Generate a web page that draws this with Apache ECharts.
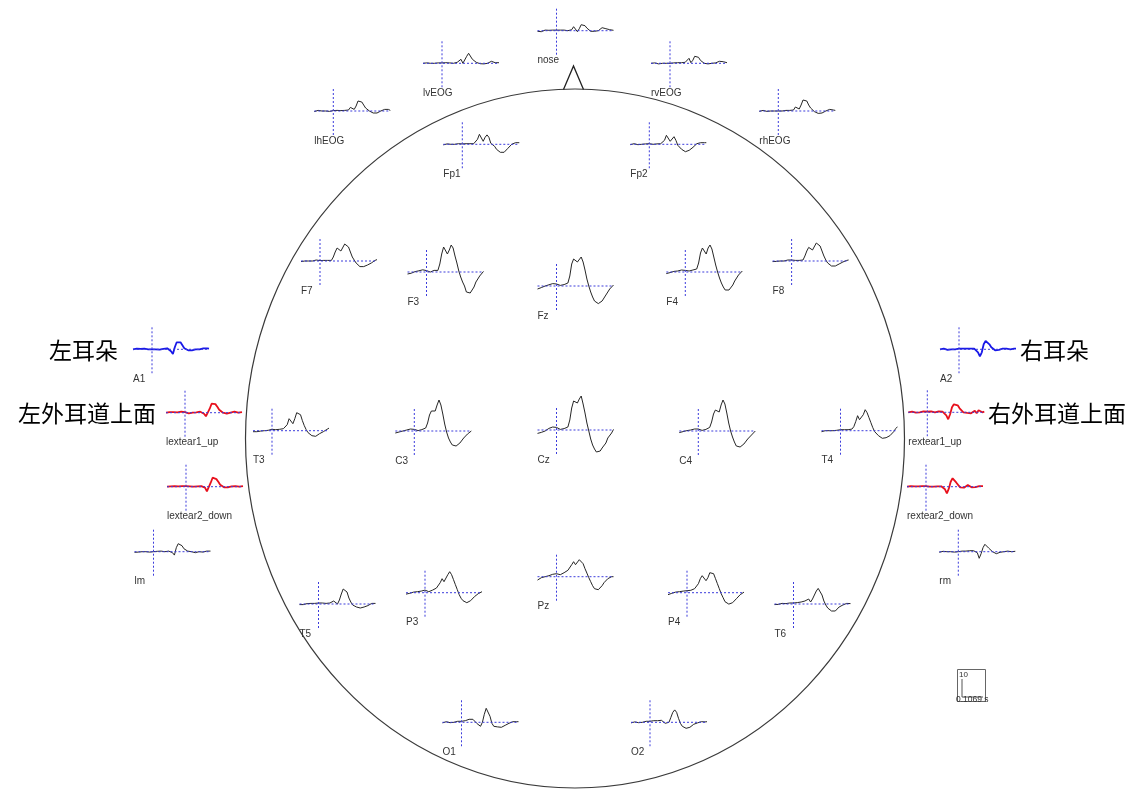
<!DOCTYPE html>
<html>
<head>
<meta charset="utf-8">
<title>ERP topoplot</title>
<script src="https://cdn.jsdelivr.net/npm/echarts@6/dist/echarts.min.js"></script>
<style>
  html, body { margin: 0; padding: 0; background: #fff; }
  #main { width: 1136px; height: 791px; }
</style>
</head>
<body>
<div id="main"></div>
<script>
// 时间轴 (ms)
var times = [-100, -90, -80, -70, -60, -50, -40, -30, -20, -10, 0, 10, 20, 30, 40, 50, 60, 70, 80, 90, 100,
    110, 120, 130, 140, 150, 160, 170, 180, 190, 200, 210, 220, 230, 240, 250, 260, 270, 280, 290, 300];

// 各通道波形 (uV)
var nose = [-0.3, 0, -0.5, 0, 0.3, -0.2, 0.2, 0, 0.3, 0.5, 0.3, 0, 0.3, 0.5, 0.3, 1, 0, -1, 0.5, 2, 1.5, -0.5, 1, 3, 3.3, 2.5, 1.3, 0.5, -0.3, -0.5, -0.3, 0, 0, 0.5, 1.5, 1.7, 1, 0.5, 0.5, 0.3, 0.2];
var lvEOG = [0, -0.3, 0.2, -0.3, 0, 0.3, 0, -0.2, 0.2, 0, 0.2, 0, 0.3, 0, 0.2, 0.3, 0, 0.3, 0.5, 1, 2, 0, 1, 3.5, 5, 4, 2, 1, 0.5, 0, -0.2, -0.3, -0.3, -0.3, 0, 0.5, 1, 0.8, 0.3, 0.5, 0.3];
var rvEOG = [0, -0.2, 0.2, 0, -0.3, 0.2, 0, 0.3, 0, 0.2, 0, 0.3, 0.2, 0, 0.3, 0.2, 0.3, 0.3, 0.5, 1.5, 2.5, 0.3, 1.5, 3.5, 4.2, 3, 1.5, 0.5, 0, -0.3, -0.3, -0.2, 0, 0, 0.2, 0.5, 1, 0.5, 0.8, 0.5, 0.3];
var lhEOG = [-0.3, 0, 0.3, -0.2, 0, 0.3, 0, 0.2, -0.2, 0, 0.2, 0, 0.3, 0, 0.2, 0, 0.3, 0.2, 0.5, 1.8, 2.5, 0.8, 2.5, 5, 5.8, 4.5, 3, 1.5, 0.5, 0, -0.5, -1, -1.2, -1, -0.5, 0, 0.5, 0.8, 0.5, 0.8, 0.3];
var rhEOG = [-0.2, 0, 0.3, 0, -0.2, 0.2, 0, 0.3, 0, 0.2, 0, 0.3, 0, 0.2, 0.3, 0, 0.3, 0.2, 0.5, 2, 3, 1, 3, 5.5, 6.5, 5, 3, 1.5, 0.5, -0.3, -0.8, -1.2, -1.3, -1, -0.5, 0, 0.5, 0.8, 0.5, 0.5, 0.3];
var Fp1 = [-0.3, 0, 0.2, -0.2, 0, 0.3, 0, 0.2, 0.3, 0, 0.2, 0, 0.3, 0.2, 0.3, 0.3, 0.3, 0.5, 2.5, 5, 5.3, 1.5, 3.5, 4.7, 3.5, 0.5, -0.3, -1, -2.5, -3.5, -4, -4.2, -4, -3, -2, -1, 0, 0.5, 0.8, 0.8, 0.8];
var Fp2 = [-0.2, 0, 0.3, 0, -0.2, 0.2, 0, 0.3, 0.2, 0, 0.3, 0.2, 0, 0.3, 0.2, 0.3, 0.3, 0.5, 2, 4.5, 5, 1.5, 2.5, 3.8, 2, -0.5, -1.5, -2.5, -3.5, -3.7, -3.5, -3, -2.5, -1.5, -0.5, 0.3, 0.5, 0.8, 0.8, 0.8, 0.8];
var F7 = [-0.3, -0.2, 0, -0.3, 0, 0.2, 0, 0.3, 0.5, 0.3, 0.2, 0, 0.3, 0.2, 0.3, 0.3, 0.3, 2, 4.5, 6.5, 7.3, 5, 5.5, 8.5, 9, 7, 4.5, 2, 0.5, -1, -2, -2.8, -3, -2.8, -2.5, -2, -1.5, -1, 0, 0.3, 0.7];
var F3 = [-1, -0.8, -0.6, -0.2, 0.2, 0.4, 0.6, 0.8, 1.1, 1, 0.7, 0.3, 0, 0.6, 0.8, 0.8, 0.8, 4, 9, 12.5, 13.5, 9, 11, 13.5, 12, 8, 4.5, 0.5, -2.5, -5, -7, -10, -11, -10.5, -9.5, -7.5, -5, -3.5, -2, -1, 0.3];
var Fz = [-1.5, -1.2, -0.8, -0.5, 0, 0.3, 0.6, 1, 1.2, 1.3, 1, 0.5, 0.3, 0.5, 0.7, 0.8, 1.5, 5, 11, 13.5, 14, 12, 13, 14.5, 12, 8, 3.5, 0, -3, -5.5, -7.5, -8.5, -8.8, -8.5, -7.5, -6, -4.5, -3, -1.5, -0.5, 0.5];
var F4 = [-0.8, -0.5, -0.3, 0, 0.3, 0.5, 0.5, 0.8, 1, 1, 0.8, 0.5, 0.5, 0.8, 1, 1, 1.5, 4.5, 9.5, 12, 11, 9, 12, 13.5, 11.5, 7.5, 3.5, 0, -3, -5.5, -7.5, -9, -9.5, -9, -8, -6.5, -4.5, -3, -1.5, -0.5, 0.5];
var F8 = [-0.3, 0, -0.2, 0.2, 0, 0.3, 0, 0.2, 0.5, 0.3, 0.5, 0.2, 0.3, 0.5, 0.3, 0.5, 0.5, 2.5, 5, 6.8, 7, 5.5, 6.5, 9, 9.5, 7.5, 5, 2.5, 0.5, -1, -2, -2.5, -2.8, -2.5, -2, -1.5, -1, -0.5, 0, 0.3, 0.5];
var A1 = [0, -0.5, 0.3, -0.3, 0.2, 0, 0.3, -0.2, 0, 0.3, 0, 0.5, 0, 0.3, -0.2, 0.3, 0.2, 0.5, 0.5, 0, -1, -2.3, 1, 3.5, 4.3, 3.5, 2, 0.5, 0, -0.5, -0.7, -0.5, -0.3, 0, 0.3, 0, 0.3, 0.5, 0.3, 0.5, 0.3];
var A2 = [0, -0.3, 0.3, 0, -0.3, 0.2, 0, 0.3, 0, -0.2, 0.3, 0, 0.3, 0, 0.3, 0, 0.3, 0.5, 0.3, 0, -1.5, -3.5, -1.5, 2.5, 4.2, 3.8, 2.5, 1, 0, -0.5, -0.5, -0.3, 0, 0.3, 0, 0.3, 0.5, 0, 0.5, 0.3, 0.3];
var lextear1_up = [0, -0.3, 0.3, 0, 0.3, -0.2, 0.2, 0, 0.5, 0, 0.3, 0.2, -0.3, 0.3, 0, 0.5, 0.2, 0.3, 0.5, 0.3, -0.5, -1.8, -2.3, 2, 4.5, 5, 4.3, 3, 1.5, 0.5, 0, -0.3, -0.5, -0.3, 0, 0.3, 0.5, 0.3, 0, 0.5, 0.3];
var lextear2_down = [0, -0.3, 0.2, 0, 0.3, 0, 0.2, -0.2, 0.3, 0, 0.3, 0, 0.2, 0.3, 0, 0.3, 0.2, 0.5, 0.3, 0.5, -0.5, -2.3, -1.5, 2, 4.5, 4.8, 3.8, 2.5, 1, 0.3, -0.3, -0.5, -0.3, 0, 0.2, -0.3, 0.3, 0.5, 0, 0.3, 0.3];
var rextear1_up = [0, -0.3, 0.3, 0, -0.2, 0.3, 0, 0.2, 0.5, 0, 0.3, 0, 0.5, 0.3, 0, 0.3, 0.5, 0.2, 0.3, 0.5, -1.5, -3.5, -1, 2.5, 4, 4.2, 3.5, 2, 1, 0, -0.5, -0.3, 0, -0.5, 0, 0.8, -0.5, 1, 0.5, 0, 0.3];
var rextear2_down = [0, -0.2, 0.3, 0, 0.2, -0.3, 0.2, 0, 0.3, 0, 0.3, 0.2, 0, 0.5, 0, 0.3, 0.2, 0.5, 0.2, 0.5, -1.3, -3.3, -1, 2.5, 4.2, 3.5, 2, 0.8, -0.3, -0.8, -0.5, 0, 0.8, 0.5, -0.3, 0.3, -0.2, 0.5, 0.3, 0, 0.3];
var T3 = [-0.5, -0.3, -0.5, 0, -0.2, 0.2, 0, 0.3, 0.2, 0.5, 0.7, 0.3, 0.5, 0.5, 0.7, 0.7, 1, 2, 3, 6, 5.5, 3.5, 6, 9, 10, 8, 5, 2.5, 0.5, -1, -2, -2.5, -3, -2.8, -2, -1.5, -1, -0.5, 0, 0.7, 1.3];
var C3 = [-1, -0.8, -0.5, -0.3, 0, 0.3, 0.5, 0.8, 1, 1, 0.8, 0.3, 0.2, 0.5, 0.7, 0.8, 1.5, 4, 8, 10, 10.5, 10, 13, 15.5, 13, 8.5, 3.5, -0.5, -3.5, -5.5, -7, -7.5, -7.5, -7, -6, -5, -3.5, -2.5, -1.5, -0.8, 0];
var Cz = [-1.7, -1.5, -1.2, -0.8, -0.5, 0.3, 0.8, 1.2, 1.5, 1.5, 1.3, 0.7, 0.3, 0.5, 0.7, 0.8, 1.5, 5, 11, 14.5, 15.5, 13.5, 15.5, 17, 13, 8.5, 3.5, -0.5, -4.5, -7.5, -9.5, -11, -11.3, -10.5, -9, -8, -6.5, -4, -3, -1.5, 0.3];
var C4 = [-0.8, -0.5, -0.3, 0, 0.2, 0.3, 0.5, 0.8, 1, 1.2, 1, 0.5, 0.3, 0.5, 0.8, 1, 1.8, 4.5, 8.5, 10.5, 10.5, 9.5, 13, 15.5, 13.5, 9, 4, 0, -3, -5.5, -7.5, -8, -8, -7.5, -6.5, -5.5, -4, -3, -2, -1, 0];
var T4 = [-0.5, -0.3, 0, -0.3, 0, 0.2, 0, 0.3, 0.2, 0.5, 0.5, 0.3, 0.5, 0.3, 0.5, 0.7, 0.8, 2, 4.5, 7.5, 5.5, 5, 8, 10.5, 9, 6.5, 4, 1.5, -0.5, -1.5, -2.5, -3.3, -3.8, -3.8, -3.5, -3, -2.5, -1.5, -0.5, 1, 2];
var lm = [-0.3, 0, -0.2, 0.2, 0, 0.3, 0, 0.2, -0.2, 0.3, 0, 0.3, 0.2, 0, 0.3, 0.3, 0, 0.2, 0.3, 0.5, -0.5, -1.7, 2, 4, 4.5, 3, 1.5, 1, 0.3, 0, 0, -0.3, -0.5, -0.3, 0, 0.3, -0.2, 0.3, 0.3, 0.2, 0.3];
var rm = [-0.3, 0, 0.2, -0.2, 0, 0.3, 0, 0.2, -0.2, 0.3, 0, 0.2, 0.3, 0, 0.3, 0.2, 0.5, 0.3, 0.5, 0.3, -0.5, -3.3, -1, 2, 3.7, 3, 1.8, 1, 0, -0.8, -1, -0.8, -0.3, 0.5, 0, -0.5, 0.3, 0.5, 0, 0.3, 0.2];
var T5 = [-0.3, 0, -0.3, 0, 0.2, 0, 0.3, 0, 0.3, 0.2, 0.5, 0.3, 0.5, 0.5, 0.3, 0.7, 0.5, 1, 1.5, 1.5, 0, 2, 5, 7.5, 7.8, 6, 3, 1, -0.5, -1.3, -1.5, -1.5, -2, -2.2, -1.5, -0.5, -0.8, 0, 0.3, 0.2, 0.3];
var P3 = [-0.7, -0.5, -0.3, 0, 0.3, 0.4, 0.5, 0.7, 0.8, 1, 1.3, 0.8, 0.5, 0.8, 1.3, 1.8, 2.3, 3, 5, 7, 5.5, 6, 9, 10.5, 9, 6.5, 4, 1.5, -1, -2.8, -4, -4.8, -5, -4.8, -4, -3, -2, -1.3, -0.5, 0, 0.5];
var Pz = [-1.7, -1.2, -0.5, -0.2, 0, 0.2, 0.5, 0.8, 1.2, 1.5, 1.5, 0.8, 1, 1.5, 2, 2.5, 3.2, 4.2, 6, 7.5, 6, 6.5, 8.5, 9.2, 6.5, 4, 1.8, -0.5, -2.5, -4.5, -6, -6.6, -6.5, -5.5, -4.5, -3, -2, -1, -0.2, 0, 0];
var P4 = [-1, -0.7, -0.3, 0, 0.3, 0.5, 0.5, 0.8, 0.8, 1, 1, 0.7, 1.2, 1.5, 2, 3, 4.5, 7, 8.5, 9, 6, 7.5, 10, 11, 9.5, 7, 4.5, 2, -0.5, -2.5, -4.5, -5.5, -5.7, -5.7, -5, -4, -3, -2, -1, -0.3, 0.3];
var T6 = [-0.3, 0, -0.2, 0, 0.3, 0, 0.2, 0.3, 0.5, 0.3, 0.5, 0.5, 0.7, 0.5, 1, 1, 1.5, 1.5, 2.5, 1, 2.5, 4.5, 6.5, 7.8, 7, 4.5, 1.5, -0.5, -2, -3, -3.5, -3.8, -3.5, -2.5, -1.5, -0.5, -0.5, 0, 0.3, 0.3, 0.2];
var O1 = [-0.3, 0, 0.3, 0, -0.2, 0.3, 0, 0.2, 0.5, 0.3, 0.5, 1, 0.8, 1.5, 1.5, 0.5, 1.5, 1, -0.5, -1.5, -2, 0, 4, 7, 6, 3, -0.5, -2, -2.3, -2.3, -2.2, -2.5, -2.3, -1.5, -0.5, -0.5, 0, 0.3, -0.2, 0.3, 0.3];
var O2 = [-0.3, 0, 0.2, 0, -0.2, 0.3, 0, 0.3, 0.5, 0.3, 0.5, 0.3, 0.8, 0.5, 0.8, 1, 1, 0.5, -0.5, -1.3, 0, 2.5, 5, 6.2, 5, 2, -0.5, -2, -2.5, -3, -3, -2.5, -2, -1, -0.5, -0.3, 0, 0.3, 0.3, 0.2, 0.3];

// 版面: [标签, 数据, 零点竖线x, 基线y, 颜色]
var layout = [
    ['nose', nose, 556.5, 30.7, 'k'],
    ['lvEOG', lvEOG, 442, 63.3, 'k'],
    ['rvEOG', rvEOG, 670, 63.3, 'k'],
    ['lhEOG', lhEOG, 333.3, 111, 'k'],
    ['rhEOG', rhEOG, 778.3, 111, 'k'],
    ['Fp1', Fp1, 462.3, 144.3, 'k'],
    ['Fp2', Fp2, 649.3, 144.3, 'k'],
    ['F7', F7, 320, 261, 'k'],
    ['F3', F3, 426.5, 272, 'k'],
    ['Fz', Fz, 556.5, 286, 'k'],
    ['F4', F4, 685.3, 272, 'k'],
    ['F8', F8, 791.6, 261, 'k'],
    ['A1', A1, 152, 349.3, 'b'],
    ['A2', A2, 959, 349.3, 'b'],
    ['lextear1_up', lextear1_up, 185, 412.7, 'r'],
    ['lextear2_down', lextear2_down, 186, 486.7, 'r'],
    ['rextear1_up', rextear1_up, 927.3, 412.3, 'r'],
    ['rextear2_down', rextear2_down, 926, 486.7, 'r'],
    ['T3', T3, 272, 430.7, 'k'],
    ['C3', C3, 414.3, 431, 'k'],
    ['Cz', Cz, 556.5, 430, 'k'],
    ['C4', C4, 698.3, 431, 'k'],
    ['T4', T4, 840.5, 430.7, 'k'],
    ['lm', lm, 153.5, 551.7, 'k'],
    ['rm', rm, 958.3, 551.7, 'k'],
    ['T5', T5, 318.5, 604, 'k'],
    ['P3', P3, 425, 592.7, 'k'],
    ['Pz', Pz, 556.5, 576.7, 'k'],
    ['P4', P4, 687, 592.7, 'k'],
    ['T6', T6, 793.5, 604, 'k'],
    ['O1', O1, 461.5, 722.3, 'k'],
    ['O2', O2, 650, 722.3, 'k']
];

var colorMap = { k: '#262626', r: '#e8101c', b: '#1818e8' };
var crossColor = '#3c3cdc';

var chart = echarts.init(document.getElementById('main'));

var grids = [], xAxes = [], yAxes = [], series = [];
var graphic = [
    // 头部轮廓
    {
        type: 'ellipse',
        shape: { cx: 575, cy: 438.5, rx: 329.5, ry: 349.5 },
        style: { fill: 'none', stroke: '#3a3a3a', lineWidth: 1.2 },
        z: 1
    },
    // 鼻子
    {
        type: 'polyline',
        shape: { points: [[563.5, 89.5], [573.5, 66], [583.5, 89.5]] },
        style: { fill: 'none', stroke: '#222', lineWidth: 1.3 },
        z: 1
    }
];

layout.forEach(function (ch, idx) {
    var cx = ch[2], cy = ch[3];
    var col = colorMap[ch[4]];
    grids.push({ left: cx - 19, top: cy - 24, width: 76, height: 48 });
    xAxes.push({ gridIndex: idx, type: 'value', min: -100, max: 300, show: false });
    yAxes.push({ gridIndex: idx, type: 'value', min: -12, max: 12, show: false });
    series.push({
        type: 'line',
        xAxisIndex: idx,
        yAxisIndex: idx,
        data: times.map(function (t, i) { return [t, ch[1][i]]; }),
        symbol: 'none',
        clip: false,
        silent: true,
        lineStyle: { color: col, width: ch[4] === 'k' ? 1 : 1.8 },
        z: 2
    });
    series.push({
        type: 'line',
        xAxisIndex: idx,
        yAxisIndex: idx,
        data: [[times[0], 0], [times[times.length - 1], 0]],
        symbol: 'none',
        silent: true,
        lineStyle: { color: crossColor, width: 1, type: [2, 2] },
        z: 3
    });
    series.push({
        type: 'line',
        xAxisIndex: idx,
        yAxisIndex: idx,
        data: [[0, -12], [0, 12]],
        symbol: 'none',
        silent: true,
        lineStyle: { color: crossColor, width: 1, type: [2, 2] },
        z: 3
    });
    graphic.push({
        type: 'text',
        x: cx - 19,
        y: cy + 30,
        style: {
            text: ch[0],
            font: '10px "Liberation Sans", Arial, sans-serif',
            fill: '#333',
            textVerticalAlign: 'middle'
        },
        z: 5
    });
});

// 中文注释
var cjk = '23px "Noto Sans CJK SC", sans-serif';
graphic.push(
    { type: 'text', x: 118, y: 350, style: { text: '左耳朵', font: cjk, fill: '#000', textAlign: 'right', textVerticalAlign: 'middle' } },
    { type: 'text', x: 156, y: 413, style: { text: '左外耳道上面', font: cjk, fill: '#000', textAlign: 'right', textVerticalAlign: 'middle' } },
    { type: 'text', x: 1020, y: 350, style: { text: '右耳朵', font: cjk, fill: '#000', textVerticalAlign: 'middle' } },
    { type: 'text', x: 988, y: 413, style: { text: '右外耳道上面', font: cjk, fill: '#000', textVerticalAlign: 'middle' } }
);

// 比例尺
graphic.push(
    { type: 'rect', shape: { x: 957.5, y: 669.5, width: 28, height: 32 }, style: { fill: 'none', stroke: '#666', lineWidth: 1 } },
    { type: 'text', x: 959, y: 675, style: { text: '10', font: '8px "Liberation Sans", Arial', fill: '#333', textVerticalAlign: 'middle' } },
    { type: 'polyline', shape: { points: [[962, 679], [962, 697], [983, 697]] }, style: { fill: 'none', stroke: '#555', lineWidth: 1 } },
    { type: 'text', x: 956, y: 700, style: { text: '0.1069 s', font: '8.5px "Liberation Sans", Arial', fill: '#333', textVerticalAlign: 'middle' } }
);

chart.setOption({
    backgroundColor: '#fff',
    animation: false,
    grid: grids,
    xAxis: xAxes,
    yAxis: yAxes,
    series: series,
    graphic: graphic
});
</script>
</body>
</html>
